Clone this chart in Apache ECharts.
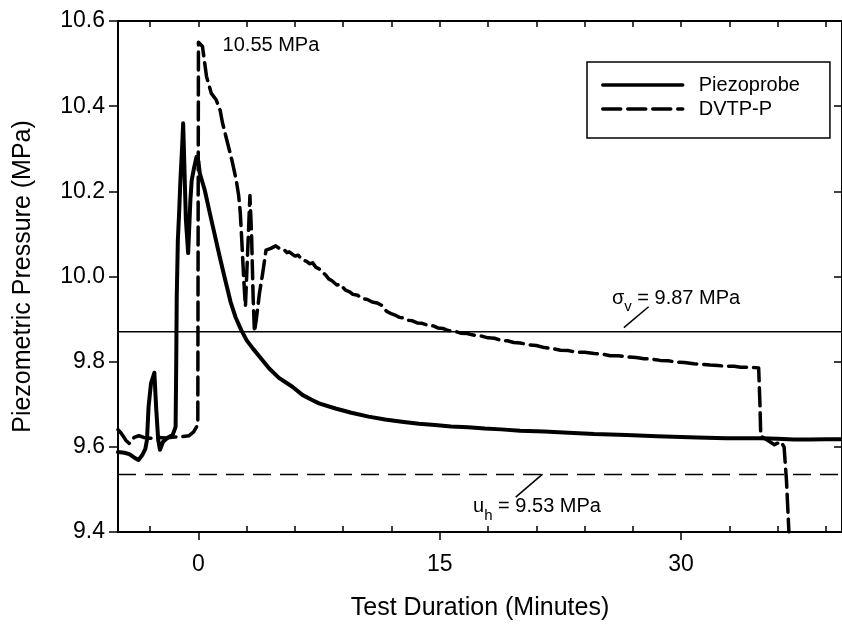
<!DOCTYPE html>
<html><head><meta charset="utf-8">
<script src="https://cdn.jsdelivr.net/npm/echarts@6/dist/echarts.min.js"></script>
<style>html,body{margin:0;padding:0;background:#fff}#c{width:842px;height:628px}</style>
</head><body><div id="c"></div>
<script>
// ---- data ----
const piezoTime = [-5.0,-4.6,-4.3,-4.0,-3.73,-3.5,-3.3,-3.2,-3.1,-2.95,-2.74,-2.62,-2.5,-2.39,-2.2,-1.9,-1.6,-1.42,-1.38,-1.35,-1.28,-1.2,-1.12,-1.02,-0.95,-0.88,-0.78,-0.64,-0.5,-0.42,-0.3,-0.12,0.0,0.08,0.39,0.7,1.0,1.3,1.62,2.0,2.3,2.66,3.0,3.4,3.79,4.4,5.0,5.84,6.46,7.0,7.49,8.52,9.5,10.58,11.6,12.64,13.7,14.7,15.7,16.76,17.8,18.8,20.0,21.5,23.0,24.6,26.6,28.5,30.0,31.0,32.8,34.0,34.9,36.0,37.0,38.0,39.0,40.0];
const piezoValue = [9.588,9.586,9.583,9.575,9.569,9.58,9.595,9.616,9.694,9.749,9.774,9.686,9.616,9.593,9.612,9.622,9.628,9.647,9.80,9.95,10.085,10.15,10.227,10.30,10.36,10.266,10.133,10.055,10.18,10.226,10.25,10.281,10.27,10.243,10.203,10.15,10.10,10.05,9.999,9.94,9.905,9.874,9.85,9.83,9.812,9.784,9.762,9.741,9.722,9.711,9.702,9.690,9.680,9.671,9.664,9.659,9.654,9.651,9.648,9.646,9.643,9.641,9.638,9.636,9.633,9.630,9.628,9.625,9.623,9.622,9.620,9.620,9.620,9.619,9.617,9.617,9.618,9.618];
const dvtpTime = [-5.0,-4.8,-4.5,-4.3,-4.0,-3.7,-3.4,-3.0,-2.5,-2.0,-1.5,-1.0,-0.6,-0.3,-0.1,-0.04,0.0,0.1,0.25,0.5,0.8,1.1,1.35,1.5,1.7,1.9,2.1,2.35,2.5,2.6,2.7,2.82,2.92,3.05,3.2,3.3,3.4,3.48,3.6,3.79,3.99,4.2,4.5,4.8,5.02,5.3,5.5,5.64,6.0,6.2,6.46,6.7,6.9,7.1,7.29,7.5,7.7,7.9,8.11,8.3,8.6,8.8,9.14,9.4,9.6,9.9,10.17,10.5,10.8,11.1,11.4,11.7,12.02,12.3,12.5,12.8,13.05,13.3,13.6,13.9,14.29,14.6,14.9,15.2,15.52,15.9,16.3,16.7,17.17,17.6,18.0,18.4,18.81,19.2,19.6,20.0,20.46,21.0,21.5,22.0,22.5,23.0,23.5,24.0,24.6,25.1,25.6,26.1,26.6,27.2,27.7,28.2,28.7,29.2,29.7,30.2,30.8,31.3,31.8,32.3,32.8,33.3,33.7,34.2,34.6,34.82,34.9,34.95,35.3,35.8,36.2,36.4,36.55,36.7];
const dvtpValue = [9.640,9.632,9.615,9.608,9.622,9.626,9.622,9.620,9.622,9.621,9.623,9.624,9.626,9.635,9.648,9.655,10.55,10.55,10.54,10.47,10.43,10.415,10.39,10.36,10.33,10.30,10.27,10.226,10.19,10.15,10.08,9.99,9.93,10.05,10.19,10.10,9.95,9.87,9.90,9.96,10.007,10.062,10.066,10.072,10.066,10.064,10.056,10.058,10.048,10.050,10.039,10.036,10.030,10.032,10.022,10.018,10.010,10.004,9.994,9.990,9.980,9.982,9.968,9.964,9.958,9.956,9.948,9.946,9.940,9.938,9.932,9.918,9.912,9.908,9.904,9.902,9.897,9.896,9.891,9.890,9.885,9.884,9.879,9.878,9.873,9.872,9.867,9.866,9.862,9.860,9.856,9.855,9.850,9.849,9.845,9.844,9.840,9.838,9.833,9.831,9.827,9.826,9.822,9.822,9.819,9.818,9.814,9.814,9.811,9.810,9.807,9.806,9.803,9.802,9.799,9.798,9.795,9.794,9.792,9.791,9.789,9.789,9.787,9.787,9.786,9.785,9.70,9.625,9.617,9.605,9.612,9.60,9.52,9.40];
const seriesNames = ['Piezoprobe', 'DVTP-P'];
const xRange = [-5, 40];
const yRange = [9.4, 10.6];
const yStep = 0.2;
const xMajorTicks = [0, 15, 30];
const xMinorTicks = [-3, 3, 6, 9, 12, 18, 21, 24, 27, 33, 36, 39];
const xTopTicks = [-3, 0, 3, 6, 9, 12, 15, 18, 21, 24, 27, 30, 33, 36, 39];
const sigmaV = 9.87;
const uH = 9.535;
const sigmaLeader = [[26.44, 9.880], [27.98, 9.929]];
const uhLeader = [[19.72, 9.482], [21.39, 9.536]];
const peakText = '10.55 MPa';
const peakAnchor = [1.5, 10.543];
const sigmaAnchor = [25.7, 9.949];
const uhAnchor = [17.07, 9.459];
const xTitle = 'Test Duration (Minutes)';
const yTitle = 'Piezometric Pressure (MPa)';

const FONT = '"Liberation Sans", Arial, Helvetica, sans-serif';
const zip = (a, b) => a.map((v, i) => [v, b[i]]);

const chart = echarts.init(document.getElementById('c'), null, {renderer: 'canvas'});

const baseX = {type: 'value', min: xRange[0], max: xRange[1], splitLine: {show: false}};
const option = {
  backgroundColor: '#fff',
  animation: false,
  grid: {left: 118, top: 21, width: 728, height: 511, containLabel: false},
  legend: {
    data: seriesNames,
    orient: 'vertical',
    left: 587, top: 62,
    borderColor: '#000', borderWidth: 1.5,
    padding: [13, 30, 19, 14],
    itemWidth: 80, itemHeight: 14, itemGap: 4,
    itemStyle: {opacity: 0, color: 'rgba(0,0,0,0)', borderWidth: 0},
    lineStyle: {width: 3.5},
    textStyle: {fontFamily: FONT, fontSize: 20, color: '#000', padding: [0, 0, 0, 11]},
    selectedMode: false
  },
  xAxis: [
    Object.assign({}, baseX, {
      position: 'bottom',
      name: xTitle, nameLocation: 'middle', nameGap: 64,
      nameTextStyle: {fontFamily: FONT, fontSize: 25, color: '#000'},
      axisLine: {show: true, onZero: false, lineStyle: {color: '#000', width: 2}},
      axisTick: {show: true, inside: false, length: 8, customValues: xMajorTicks, lineStyle: {color: '#000', width: 1.5}},
      axisLabel: {show: true, customValues: xMajorTicks, margin: 21, fontFamily: FONT, fontSize: 23, color: '#000'}
    }),
    Object.assign({}, baseX, {
      position: 'bottom',
      axisLine: {show: false, onZero: false},
      axisTick: {show: true, inside: true, length: 6, customValues: xMinorTicks, lineStyle: {color: '#000', width: 1.5}},
      axisLabel: {show: false}
    }),
    Object.assign({}, baseX, {
      position: 'top',
      axisLine: {show: true, onZero: false, lineStyle: {color: '#000', width: 2}},
      axisTick: {show: true, inside: true, length: 6, customValues: xTopTicks, lineStyle: {color: '#000', width: 1.5}},
      axisLabel: {show: false}
    })
  ],
  yAxis: [
    {
      type: 'value', position: 'left', min: yRange[0], max: yRange[1], interval: yStep,
      name: yTitle, nameLocation: 'middle', nameGap: 82, nameRotate: 90,
      nameTextStyle: {fontFamily: FONT, fontSize: 25, color: '#000'},
      axisLine: {show: true, onZero: false, lineStyle: {color: '#000', width: 2}},
      axisTick: {show: true, inside: false, length: 9, lineStyle: {color: '#000', width: 1.5}},
      axisLabel: {margin: 13, fontFamily: FONT, fontSize: 23, color: '#000', formatter: v => v.toFixed(1)},
      splitLine: {show: false}
    },
    {
      type: 'value', position: 'right', min: yRange[0], max: yRange[1], interval: yStep,
      axisLine: {show: true, onZero: false, lineStyle: {color: '#000', width: 2}},
      axisTick: {show: true, inside: true, length: 8, lineStyle: {color: '#000', width: 1.5}},
      axisLabel: {show: false},
      splitLine: {show: false}
    }
  ],
  series: [
    {
      name: 'sigma', type: 'line', xAxisIndex: 0, yAxisIndex: 0,
      data: [[xRange[0], sigmaV], [xRange[1], sigmaV]],
      symbol: 'none', silent: true,
      lineStyle: {color: '#000', width: 1.5}
    },
    {
      name: 'uh', type: 'line', xAxisIndex: 0, yAxisIndex: 0,
      data: [[xRange[0], uH], [xRange[1], uH]],
      symbol: 'none', silent: true,
      lineStyle: {color: '#000', width: 1.5, type: [18, 9]}
    },
    {
      name: 'sigmaLeader', type: 'line', data: sigmaLeader, symbol: 'none', silent: true,
      lineStyle: {color: '#000', width: 1.5}
    },
    {
      name: 'uhLeader', type: 'line', data: uhLeader, symbol: 'none', silent: true,
      lineStyle: {color: '#000', width: 1.5}
    },
    {
      name: seriesNames[0], type: 'line', xAxisIndex: 0, yAxisIndex: 0,
      data: zip(piezoTime, piezoValue), symbol: 'none', smooth: false,
      lineStyle: {color: '#000', width: 4, join: 'round', cap: 'round'},
      itemStyle: {color: '#000'}
    },
    {
      name: seriesNames[1], type: 'line', xAxisIndex: 0, yAxisIndex: 0,
      data: zip(dvtpTime, dvtpValue), symbol: 'none', smooth: false,
      lineStyle: {color: '#000', width: 3.5, type: [18, 7], join: 'round', cap: 'round'},
      itemStyle: {color: '#000'}
    }
  ]
};
chart.setOption(option);

function px(p) { return chart.convertToPixel({xAxisIndex: 0, yAxisIndex: 0}, p); }
const pPeak = px(peakAnchor), pSig = px(sigmaAnchor), pUh = px(uhAnchor);
const sub = {fontSize: 15, fontFamily: FONT, padding: [18, 0, 0, 0], lineHeight: 15};
const main = {fontSize: 20, fontFamily: FONT, lineHeight: 24};
chart.setOption({
  graphic: [
    {type: 'text', x: pPeak[0], y: pPeak[1], silent: true,
     style: {text: peakText, fontSize: 20, fontFamily: FONT, fill: '#000', verticalAlign: 'middle', align: 'left'}},
    {type: 'text', x: pSig[0], y: pSig[1], silent: true,
     style: {text: '{m|σ}{s|v}{m| = 9.87 MPa}', fill: '#000', verticalAlign: 'middle', align: 'left',
             rich: {m: main, s: sub}}},
    {type: 'text', x: pUh[0], y: pUh[1], silent: true,
     style: {text: '{m|u}{s|h}{m| = 9.53 MPa}', fill: '#000', verticalAlign: 'middle', align: 'left',
             rich: {m: main, s: sub}}}
  ]
});
</script>
</body></html>
